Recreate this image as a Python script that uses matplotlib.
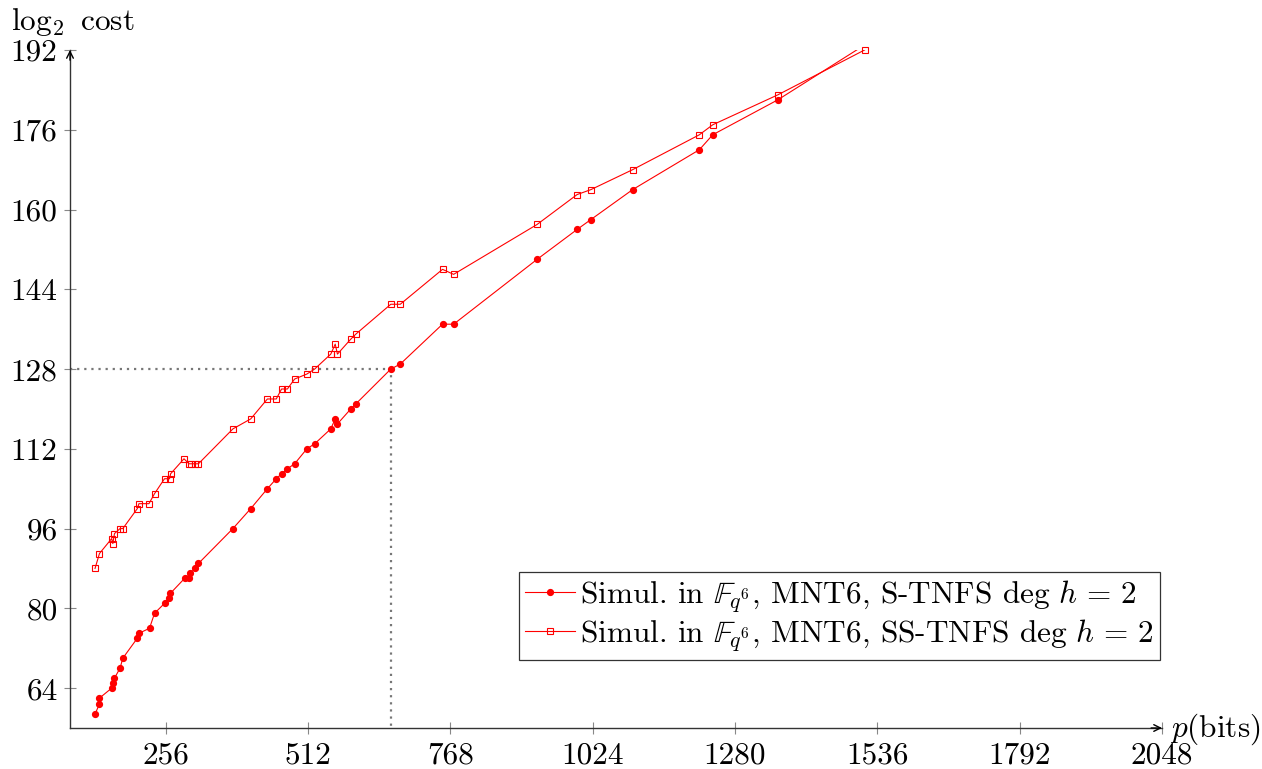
import numpy as np
import matplotlib
matplotlib.use("Agg")
import matplotlib.pyplot as plt
from matplotlib.lines import Line2D

plt.rcParams['font.family'] = ['cmr10', 'DejaVu Serif']
plt.rcParams['mathtext.fontset'] = 'cm'
plt.rcParams['axes.formatter.use_mathtext'] = True

# ---- data ----
p_stnfs = [129, 137, 137, 159, 162, 164, 174, 179, 205, 208, 227, 236, 254, 262, 264.5,
           290, 298, 300, 309, 315, 377, 409, 439, 455, 464.5, 475, 488, 510, 524, 553,
           561, 565, 589, 598, 661, 678, 754, 774, 924, 996, 1021, 1096, 1216, 1240, 1357, 1513]
cost_stnfs = [58.8, 60.8, 62, 64, 65, 66, 68, 70, 74, 75, 76, 79, 81, 82, 83,
              86, 86, 87, 88, 89, 96, 100, 104, 106, 107, 108, 109, 112, 113, 116,
              118, 117, 120, 121, 128, 129, 137, 137, 150, 156, 158, 164, 172, 175, 182, 193]

p_sstnfs = [129, 137, 159, 161, 164, 174, 179, 205, 208, 226, 236, 254, 263, 265,
            289, 298, 301, 309, 315, 377, 409, 439, 455, 464.5, 475, 488, 510, 524, 553,
            561, 565, 589, 598, 661, 678, 754, 774, 924, 996, 1021, 1096, 1216, 1240, 1357, 1513]
cost_sstnfs = [88, 91, 94, 93, 95, 96, 96, 100, 101, 101, 103, 106, 106, 107,
               110, 109, 109, 109, 109, 116, 118, 122, 122, 124, 124, 126, 127, 128, 131,
               133, 131, 134, 135, 141, 141, 148, 147, 157, 163, 164, 168, 175, 177, 183, 192]

x_ticks = [256, 512, 768, 1024, 1280, 1536, 1792, 2048]
y_ticks = [64, 80, 96, 112, 128, 144, 160, 176, 192]
ref_p = 661
ref_cost = 128

label_s = r'Simul. in $\mathbb{F}_{q^6}$, MNT6, S-TNFS $\deg\, h\, =\, 2$'
label_ss = r'Simul. in $\mathbb{F}_{q^6}$, MNT6, SS-TNFS $\deg\, h\, =\, 2$'

XMIN, XMAX = 84, 2048
YMIN, YMAX = 56, 192
FS = 22.5

fig = plt.figure(figsize=(12.62, 7.69), dpi=100)
ax = fig.add_axes([70/1262, 41/769, (1162-70)/1262, (728-50)/769])
ax.set_xlim(XMIN, XMAX)
ax.set_ylim(YMIN, YMAX)

# reference dotted lines
ax.plot([XMIN, ref_p, ref_p], [ref_cost, ref_cost, YMIN], ls=(0, (1, 2.2)),
        color='#777777', lw=1.6, zorder=1)

red = '#ff0000'
ps = np.array(p_stnfs); cs = np.array(cost_stnfs)
pss = np.array(p_sstnfs); css = np.array(cost_sstnfs)

ax.plot(ps, cs, '-', color=red, lw=0.8, zorder=2)
ax.plot(pss, css, '-', color=red, lw=0.8, zorder=2)
m = cs <= YMAX
ax.plot(ps[m], cs[m], 'o', color=red, ms=4.2, ls='none', zorder=3, clip_on=False)
m2 = css <= YMAX
ax.plot(pss[m2], css[m2], 's', mfc='none', mec=red, ms=4.5, mew=0.8, ls='none',
        zorder=3, clip_on=False)

# legend proxies
h1 = Line2D([], [], color=red, lw=0.8, marker='o', ms=4.2)
h2 = Line2D([], [], color=red, lw=0.8, marker='s', ms=4.0, mfc='none', mew=0.8)
leg = ax.legend([h1, h2], [label_s, label_ss], loc='lower right',
                bbox_to_anchor=(1160/1262, (769-660)/769), bbox_transform=fig.transFigure,
                fontsize=FS, frameon=True, fancybox=False, handlelength=1.6,
                handletextpad=0.15, borderpad=0.2, labelspacing=0.1, borderaxespad=0)
leg.get_frame().set_edgecolor('black')
leg.get_frame().set_linewidth(0.9)

for s in ['top', 'right']:
    ax.spines[s].set_visible(False)
for s in ['left', 'bottom']:
    ax.spines[s].set_color('#333333')
    ax.spines[s].set_linewidth(1.0)

ax.set_xticks(x_ticks)
ax.set_yticks(y_ticks)
ax.set_xticklabels([str(t) for t in x_ticks])
ax.set_yticklabels([str(t) for t in y_ticks])
ax.tick_params(direction='inout', length=8, width=0.8, color='#888888',
               labelsize=FS)
ax.tick_params(axis='x', pad=6)
ax.tick_params(axis='y', pad=5)

# axis arrows
ax.annotate('', xy=(1.0, 0), xytext=(0.99, 0), xycoords='axes fraction',
            arrowprops=dict(arrowstyle='->', color='black', lw=1.0,
                            mutation_scale=12, shrinkA=0, shrinkB=0))
ax.annotate('', xy=(0, 1.0), xytext=(0, 0.985), xycoords='axes fraction',
            arrowprops=dict(arrowstyle='->', color='black', lw=1.0,
                            mutation_scale=12, shrinkA=0, shrinkB=0))

fig.text(11/1262, 1 - 30/769, r'$\log_2$ cost', fontsize=FS, va='baseline', ha='left')
fig.text(1170/1262, 1 - 737/769, r'$p$(bits)', fontsize=FS, va='baseline', ha='left')

fig.savefig('out.png', dpi=100)
